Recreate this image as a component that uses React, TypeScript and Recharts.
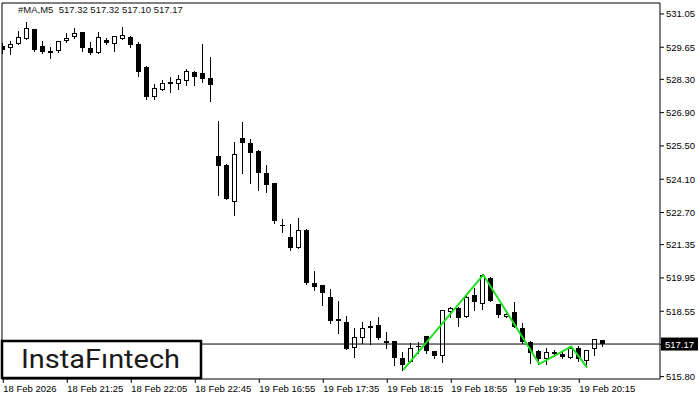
import React from "react";
import { ComposedChart, Bar, Line, XAxis, YAxis, ReferenceLine } from "recharts";

// M5 candles, 18 Feb 20:45 .. 22:55 then 19 Feb 16:30 .. 20:30
const OPEN = [
  529.71, 529.61, 529.79, 530.0, 530.42, 529.71, 529.4, 529.51, 529.93, 530.1,
  530.29, 529.61, 529.4, 529.97, 529.78, 530.01, 530.07, 529.8, 528.83, 527.57,
  527.87, 528.19, 528.09, 528.23, 528.61, 528.57, 528.35, 525.08, 524.7, 523.16,
  525.84, 525.61, 525.29, 524.37, 523.94, 522.19, 521.67, 521.22, 521.98, 519.74,
  519.66, 519.14, 518.12, 518.1, 516.99, 517.41, 517.93, 517.96, 517.29, 517.3,
  516.57, 516.42, 517.1, 517.5, 516.87, 516.68, 518.52, 518.7, 518.3, 519.23,
  518.84, 519.96, 518.85, 518.32, 518.53, 517.86, 517.25, 516.88, 516.54, 516.83,
  516.75, 516.6, 516.99, 516.46, 516.96, 517.32,
];
const HIGH = [
  529.83, 529.93, 530.34, 530.71, 530.43, 529.93, 529.68, 529.91, 530.26, 530.46,
  530.3, 529.86, 530.29, 530.05, 530.13, 530.52, 530.13, 529.89, 528.84, 528.11,
  528.28, 528.41, 528.49, 528.73, 528.63, 529.8, 529.23, 526.55, 524.72, 525.66,
  526.5, 525.78, 525.31, 524.7, 523.96, 522.43, 522.21, 522.46, 522.0, 520.24,
  519.67, 519.47, 518.98, 518.35, 517.83, 518.08, 518.15, 518.31, 517.69, 517.31,
  516.83, 517.22, 517.25, 517.51, 516.88, 518.6, 518.74, 518.71, 519.23, 519.52,
  520.1, 519.97, 518.86, 518.47, 518.93, 518.04, 517.3, 516.92, 516.99, 516.92,
  516.83, 517.06, 517.09, 516.92, 517.38, 517.32,
];
const LOW = [
  529.41, 529.36, 529.77, 529.99, 529.49, 529.42, 529.19, 529.45, 529.89, 530.05,
  529.51, 529.37, 529.39, 529.78, 529.49, 530.0, 529.68, 528.46, 527.49, 527.49,
  527.85, 527.77, 527.9, 528.07, 528.07, 528.2, 527.41, 523.44, 523.25, 522.6,
  524.35, 523.96, 523.65, 523.58, 522.25, 521.87, 521.14, 521.21, 519.68, 519.45,
  518.81, 518.04, 517.65, 516.96, 516.64, 517.2, 517.17, 517.4, 517.02, 516.27,
  516.08, 516.4, 516.78, 516.78, 516.6, 516.4, 518.32, 517.93, 518.29, 518.6,
  518.63, 518.99, 518.32, 518.29, 517.89, 517.2, 516.36, 516.33, 516.33, 516.68,
  516.6, 516.59, 516.47, 516.26, 516.71, 517.1,
];
const CLOSE = [
  529.54, 529.78, 530.07, 530.45, 529.54, 529.47, 529.49, 529.9, 530.05, 530.26,
  529.61, 529.4, 530.08, 529.83, 530.12, 530.18, 529.76, 528.6, 527.56, 527.94,
  528.14, 528.09, 528.31, 528.65, 528.38, 528.33, 528.08, 524.66, 523.27, 525.16,
  525.64, 525.22, 524.35, 523.87, 522.36, 522.18, 521.22, 521.96, 519.73, 519.58,
  519.31, 518.15, 518.21, 516.98, 517.46, 517.83, 517.86, 517.41, 517.2, 516.57,
  516.29, 516.99, 517.05, 516.89, 516.68, 518.6, 518.68, 518.25, 519.14, 518.93,
  520.08, 519.0, 518.39, 518.42, 517.9, 517.25, 516.78, 516.54, 516.83, 516.74,
  516.64, 517.02, 516.54, 516.91, 517.37, 517.17,
];

// pattern drawn on top of the candles
const ZIG_IDX = [50, 60, 67, 71, 73];
const ZIG_VAL = [516.08, 520.08, 516.33, 517.06, 516.18];

const X_TICK_POS = [0, 8, 16, 24, 32, 40, 48, 56, 64, 72];
const X_TICK_LABELS = [
  "18 Feb 2026", "18 Feb 21:25", "18 Feb 22:05", "18 Feb 22:45", "19 Feb 16:55",
  "19 Feb 17:35", "19 Feb 18:15", "19 Feb 18:55", "19 Feb 19:35", "19 Feb 20:15",
];
const Y_TICKS = [531.05, 529.65, 528.3, 526.9, 525.5, 524.1, 522.7, 521.35, 519.95, 518.55, 517.15, 515.8];
const LAST_PRICE = 517.17;

const X_DOMAIN = [-0.1625, 82.09];
const Y_DOMAIN = [515.7, 531.51];
const FONT = "'Liberation Sans', Arial, sans-serif";

const rows = OPEN.map((open, i) => {
  const z = ZIG_IDX.indexOf(i);
  return {
    i,
    open,
    high: HIGH[i],
    low: LOW[i],
    close: CLOSE[i],
    range: [LOW[i], HIGH[i]],
    zig: z >= 0 ? ZIG_VAL[z] : null,
  };
});

function Candle(props: any) {
  const { x, y, width, height, payload } = props;
  if (x == null || y == null) return null;
  const { open, close, high, low } = payload;
  const yTop = Math.min(y, y + height);
  const h = Math.abs(height);
  const k = high > low ? h / (high - low) : 0;
  const yOf = (v: number) => yTop + (high - v) * k;
  const cx = Math.floor(x + width / 2) + 0.5;
  const up = close >= open;
  const top = Math.round(yOf(Math.max(open, close)));
  let bot = Math.round(yOf(Math.min(open, close)));
  if (bot - top < 1) bot = top + 1;
  return (
    <g>
      <line x1={cx} x2={cx} y1={Math.round(yTop)} y2={Math.round(yTop + h) + 1} stroke="#000" strokeWidth={1} />
      {up ? (
        <rect x={cx - 2} y={top + 0.5} width={4} height={Math.max(bot - top - 1, 0.5)} fill="#fff" stroke="#000" strokeWidth={1} />
      ) : (
        <rect x={cx - 2.5} y={top} width={5} height={bot - top} fill="#000" />
      )}
    </g>
  );
}

const XTick = (props: any) => {
  const { x, y, payload } = props;
  const idx = X_TICK_POS.indexOf(payload.value);
  return (
    <text x={x} y={y + 9} textAnchor="start" fontSize={9.5} fill="#000" fontFamily={FONT}>
      {X_TICK_LABELS[idx]}
    </text>
  );
};

// the 517.15 label sits under the last-price tag, so it is not written
const YTick = (props: any) => {
  const { x, y, payload } = props;
  if (Math.abs(payload.value - LAST_PRICE) < 0.1) return null;
  return (
    <text x={x} y={y + 3.5} textAnchor="start" fontSize={9.5} fill="#000" fontFamily={FONT}>
      {payload.value.toFixed(2)}
    </text>
  );
};

const PriceTag = (props: any) => {
  const { viewBox } = props;
  const x = viewBox.x + viewBox.width;
  const y = viewBox.y;
  return (
    <g>
      <rect x={x + 1} y={y - 6.5} width={37} height={13} fill="#000" />
      <text x={x + 5} y={y + 3.5} fontSize={9.5} fill="#fff" fontFamily={FONT}>
        {LAST_PRICE.toFixed(2)}
      </text>
    </g>
  );
};

export default function App() {
  return (
    <div style={{ position: "absolute", left: 0, top: 0, width: 700, height: 400, background: "#fff", fontFamily: FONT }}>
      <ComposedChart width={700} height={400} data={rows} margin={{ top: 3, right: 0, left: 2, bottom: 0 }}>
        <XAxis
          dataKey="i"
          type="number"
          domain={X_DOMAIN}
          allowDataOverflow
          ticks={X_TICK_POS}
          interval={0}
          height={21}
          tickSize={4}
          tickMargin={0}
          stroke="#000"
          tick={<XTick />}
        />
        <YAxis
          orientation="right"
          domain={Y_DOMAIN}
          allowDataOverflow
          ticks={Y_TICKS}
          interval={0}
          width={40}
          tickSize={4}
          tickMargin={2}
          stroke="#000"
          tick={<YTick />}
        />
        <ReferenceLine y={Y_DOMAIN[1]} stroke="#000" />
        <ReferenceLine x={X_DOMAIN[0]} stroke="#000" />
        <Bar dataKey="range" barSize={5} shape={<Candle />} isAnimationActive={false} />
        <ReferenceLine y={LAST_PRICE} stroke="#000" strokeWidth={1} label={<PriceTag />} />
        <Line
          dataKey="zig"
          stroke="#1ee01e"
          strokeWidth={2}
          dot={false}
          connectNulls
          isAnimationActive={false}
        />
      </ComposedChart>
      <div style={{ position: "absolute", left: 18, top: 4, fontSize: 9.5, color: "#111", whiteSpace: "pre", lineHeight: "11px" }}>
        {"#MA,M5  517.32 517.32 517.10 517.17"}
      </div>
      <svg width={700} height={400} style={{ position: "absolute", left: 0, top: 0, pointerEvents: "none" }}>
        <rect x={2} y={341} width={199} height={37} fill="#fff" stroke="#000" strokeWidth={2.5} />
        <text x={21} y={368} fontSize={26} fontWeight={400} fill="#1a1a1a" fontFamily="Roboto, 'Open Sans', sans-serif" textLength={159} lengthAdjust="spacingAndGlyphs">
          InstaFıntech
        </text>
      </svg>
    </div>
  );
}
